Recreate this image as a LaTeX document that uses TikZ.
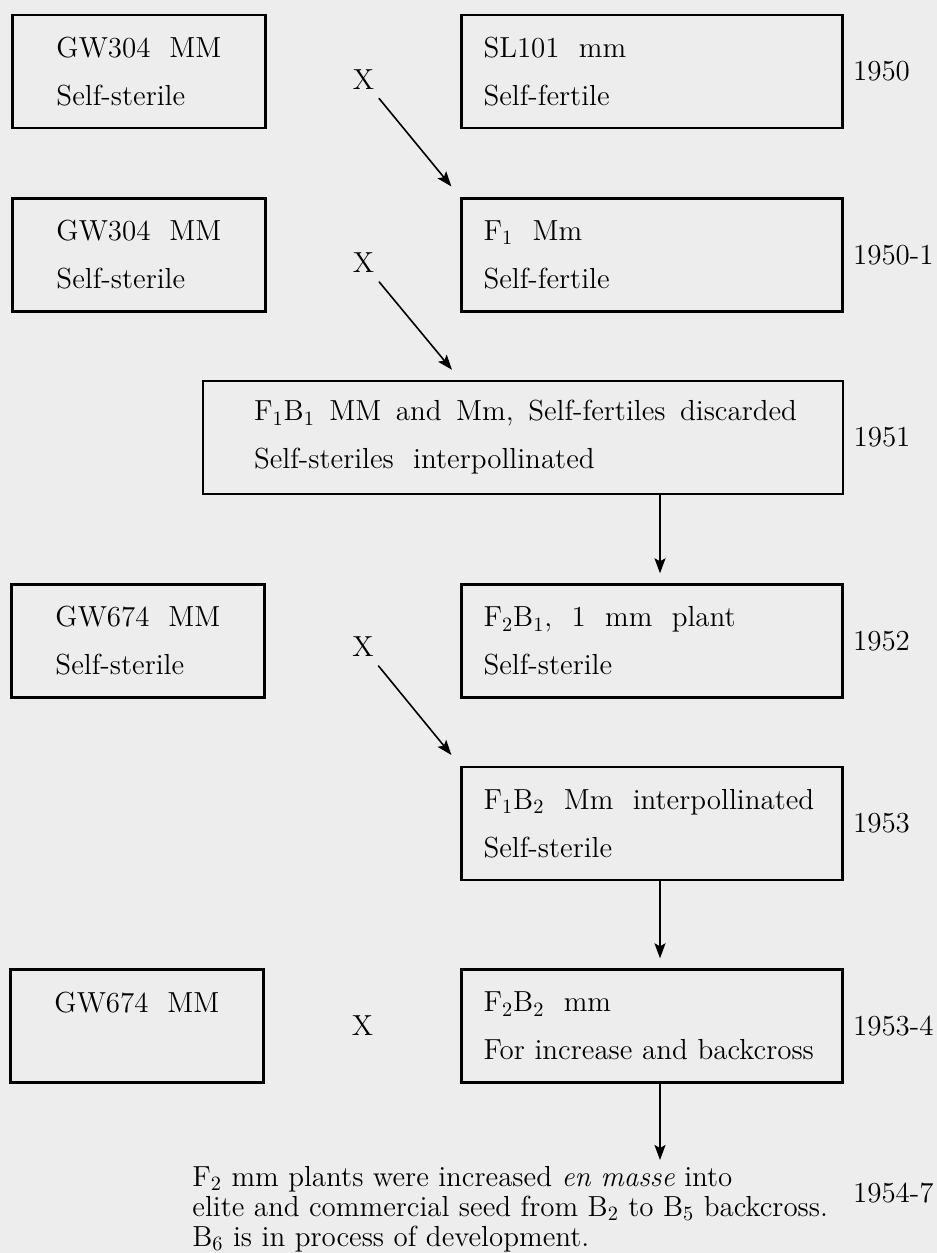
\documentclass[tikz,border=0pt]{standalone}
\usetikzlibrary{positioning, calc, arrows.meta}
\newcommand\plantfont{\fontsize{14.5}{24}\selectfont}
\newcommand\notefont{\fontsize{14.5}{15}\selectfont}

\begin{document}
\begin{tikzpicture}[x=0.5pt, y=-0.5pt, line cap=round,
    box/.style={draw, line width=1.2pt, minimum height=56.5pt, inner ysep=0pt, align=left, font=\plantfont},
    parent/.style={box, minimum width=126.5pt},
    cross/.style={box, text width=168.5pt, inner xsep=11pt},
    wide/.style={box, text width=269pt, inner xsep=25.5pt},
    year/.style={font=\plantfont, inner sep=1pt},
    xmark/.style={font=\plantfont, inner sep=2pt},
    arr/.style={-{Stealth[length=7.5pt, width=5.5pt, inset=1.5pt]}, line width=0.8pt}]
		% paper
		\fill[black!7] (0,0) rectangle (937,1253);
		\useasboundingbox (0,0) rectangle (937,1253);

		% 1950
		\node[parent] (p1) at (139,71.5) {GW304\ \ MM\\Self-sterile};
		\node[cross] (f1) at (652,71.5) {SL101\ \ mm\\Self-fertile};
		\node[xmark] (x1) at ($(p1.east)!0.5!(f1.west)+(0,8)$) {X};
		\node[year, right=3.5pt of f1] (y1) {1950};

		% 1950-1
		\node[parent] (p2) at (139,255) {GW304\ \ MM\\Self-sterile};
		\node[cross] (f2) at (652,255) {F\textsubscript{1}\ \ Mm\\Self-fertile};
		\node[xmark] (x2) at ($(p2.east)!0.5!(f2.west)+(0,8)$) {X};
		\node[year, right=3.5pt of f2] (y2) {1950-1};

		% 1951
		\node[wide] (b3) at (523,437.5) {\mbox{F\textsubscript{1}B\textsubscript{1}\ \,MM\ \,and\ \,Mm,\ \,Self-fertiles\ \,discarded}\\Self-steriles\ \ interpollinated};
		\node[year, right=3.5pt of b3] (y3) {1951};

		% 1952
		\node[parent] (p4) at (138,641) {GW674\ \ MM\\Self-sterile};
		\node[cross] (f4) at (652,641) {F\textsubscript{2}B\textsubscript{1},\ \ 1\ \ mm\ \ plant\\Self-sterile};
		\node[xmark] (x4) at ($(p4.east)!0.5!(f4.west)+(0,6)$) {X};
		\node[year, right=3.5pt of f4] (y4) {1952};

		% 1953
		\node[cross] (f5) at (652,823.5) {F\textsubscript{1}B\textsubscript{2}\ \ Mm\ \ interpollinated\\Self-sterile};
		\node[year, right=3.5pt of f5] (y5) {1953};

		% 1953-4
		\node[parent] (p6) at (137,1026) {GW674\ \ MM\\\mbox{}};
		\node[cross] (f6) at (652,1026) {F\textsubscript{2}B\textsubscript{2}\ \ mm\\For increase and backcross};
		\node[xmark] (x6) at ($(p6.east)!0.5!(f6.west)$) {X};
		\node[year, right=3.5pt of f6] (y6) {1953-4};

		% 1954-7
		\node[font=\notefont, align=left, anchor=north west, inner sep=0pt] (note) at (192,1166)
		  {F\textsubscript{2} mm plants were increased \emph{en masse} into\\
		   elite and commercial seed from B\textsubscript{2} to B\textsubscript{5} backcross.\\
		   B\textsubscript{6} is in process of development.};
		\node[year, anchor=west, yshift=8pt] (y7) at (y6.west |- note.east) {1954-7};

		% frecce
		\draw[arr, shorten <=3pt, shorten >=7pt] (x1) -- (f2.north west);
		\draw[arr, shorten <=3pt, shorten >=6.5pt] (x2) -- (b3.north -| f2.west);
		\draw[arr, shorten >=5pt] ([xshift=4pt]b3.south -| f4.north) -- ([xshift=4pt]f4.north);
		\draw[arr, shorten <=3pt, shorten >=7pt] (x4) -- (f5.north west);
		\draw[arr, shorten >=5pt] ([xshift=4pt]f5.south) -- ([xshift=4pt]f6.north);
		\draw[arr, shorten >=3pt] ([xshift=4pt]f6.south) -- ([xshift=4pt]f6.south |- note.north);
	\end{tikzpicture}
\end{document}
